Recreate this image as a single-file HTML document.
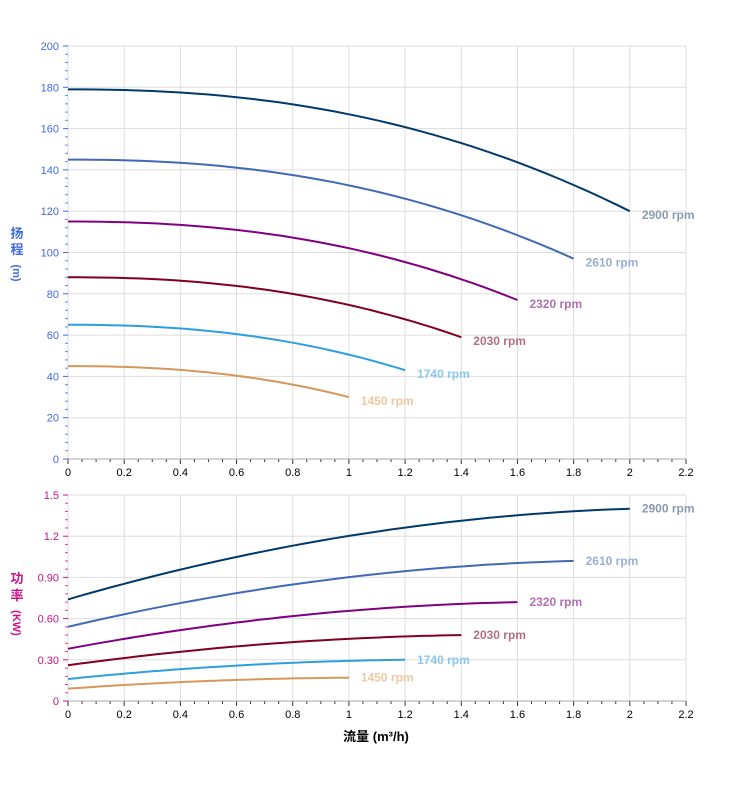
<!DOCTYPE html>
<html><head><meta charset="utf-8"><style>
html,body{margin:0;padding:0;background:#fff;width:752px;height:797px;overflow:hidden}
svg{font-family:"Liberation Sans","Noto Sans CJK SC",sans-serif}
</style></head><body>
<svg id="s" width="752" height="797" xmlns="http://www.w3.org/2000/svg"></svg>
<script>
const s=document.getElementById('s');let h='';
const X0=68,XS=(686-68)/2.2;
const x=q=>X0+q*XS;
const T={y0:459,y1:46,max:200},B={y0:701,y1:495,max:1.5};
const yt=v=>T.y0-v/T.max*(T.y0-T.y1), yb=v=>B.y0-v/B.max*(B.y0-B.y1);
function grid(P,yf,majors,labels,col){
  for(let i=0;i<=11;i++){const xx=x(i*0.2);h+=`<line x1="${xx}" y1="${P.y1}" x2="${xx}" y2="${P.y0}" stroke="#ddd"/>`;}
  majors.forEach((v,i)=>{const yy=yf(v);h+=`<line x1="${X0}" y1="${yy}" x2="686" y2="${yy}" stroke="#ddd"/><line x1="${X0-5}" y1="${yy}" x2="${X0}" y2="${yy}" stroke="${col}"/><text x="${X0-9}" y="${yy+4}" font-size="11" fill="${col}" text-anchor="end">${labels[i]}</text>`;
    if(i<majors.length-1){const n=majors[i+1];for(let k=1;k<5;k++){const my=yf(v+(n-v)*k/5);h+=`<line x1="${X0-3}" y1="${my}" x2="${X0}" y2="${my}" stroke="${col}" opacity=".8"/>`;}}});
  for(let i=0;i<=44;i++){const xx=x(i*0.05);h+=`<line x1="${xx}" y1="${P.y0}" x2="${xx}" y2="${P.y0+(i%4?3:5)}" stroke="#333"/>`;}
  h+=`<line x1="${X0}" y1="${P.y0}" x2="686" y2="${P.y0}" stroke="#aaa"/>`;
  for(let i=0;i<=11;i++){const v=+(i*0.2).toFixed(1);h+=`<text x="${x(i*0.2)}" y="${P.y0+17}" font-size="11" text-anchor="middle" fill="#000">${v}</text>`;}
}
grid(T,yt,[0,20,40,60,80,100,120,140,160,180,200],['0','20','40','60','80','100','120','140','160','180','200'],'#4169e1');
grid(B,yb,[0,0.3,0.6,0.9,1.2,1.5],['0','0.30','0.60','0.90','1.2','1.5'],'#c71585');
const S=[[2900,2,179,120,.74,1.40,'#003a6b','#8a9ab0'],[2610,1.8,145,97,.54,1.02,'#4169b5','#9aaed4'],[2320,1.6,115,77,.38,.72,'#800080','#b070b0'],[2030,1.4,88,59,.26,.48,'#800020','#b07080'],[1740,1.2,65,43,.16,.30,'#2e9ee0','#8cc8ee'],[1450,1.0,45,30,.09,.17,'#d4985a','#ecc8a0']];
S.forEach(([r,qm,h0,h1,p0,p1,c,lc])=>{
  let a='',b='';
  for(let i=0;i<=40;i++){const t=i/40,q=qm*t;
    const Hv=h0-(h0-h1)*(0.25*t*t+0.75*Math.pow(t,2.4));
    const Pv=p0+(p1-p0)*(0.8*(1-(1-t)*(1-t))+0.2*t);
    a+=(i?'L':'M')+x(q).toFixed(1)+','+yt(Hv).toFixed(1);
    b+=(i?'L':'M')+x(q).toFixed(1)+','+yb(Pv).toFixed(1);}
  h+=`<path d="${a}" fill="none" stroke="${c}" stroke-width="2"/><path d="${b}" fill="none" stroke="${c}" stroke-width="2"/>`;
  h+=`<text x="${x(qm)+12}" y="${yt(h1)+8}" font-size="12" font-weight="bold" fill="${lc}">${r} rpm</text>`;
  h+=`<text x="${x(qm)+12}" y="${yb(p1)+4}" font-size="12" font-weight="bold" fill="${lc}">${r} rpm</text>`;
});
h+=`<text x="17" y="238" font-size="13" font-weight="bold" fill="#4169e1" text-anchor="middle">扬</text><text x="17" y="254" font-size="13" font-weight="bold" fill="#4169e1" text-anchor="middle">程</text><text transform="translate(13,273) rotate(90)" font-size="11" font-weight="bold" fill="#4169e1" text-anchor="middle">(m)</text>`;
h+=`<text x="17" y="583" font-size="13" font-weight="bold" fill="#c71585" text-anchor="middle">功</text><text x="17" y="600" font-size="13" font-weight="bold" fill="#c71585" text-anchor="middle">率</text><text transform="translate(13,623) rotate(90)" font-size="11" font-weight="bold" fill="#c71585" text-anchor="middle">(KW)</text>`;
h+=`<text x="376" y="741" font-size="13" font-weight="bold" fill="#000" text-anchor="middle">流量 (m³/h)</text>`;
s.innerHTML=h;
</script>
</body></html>
